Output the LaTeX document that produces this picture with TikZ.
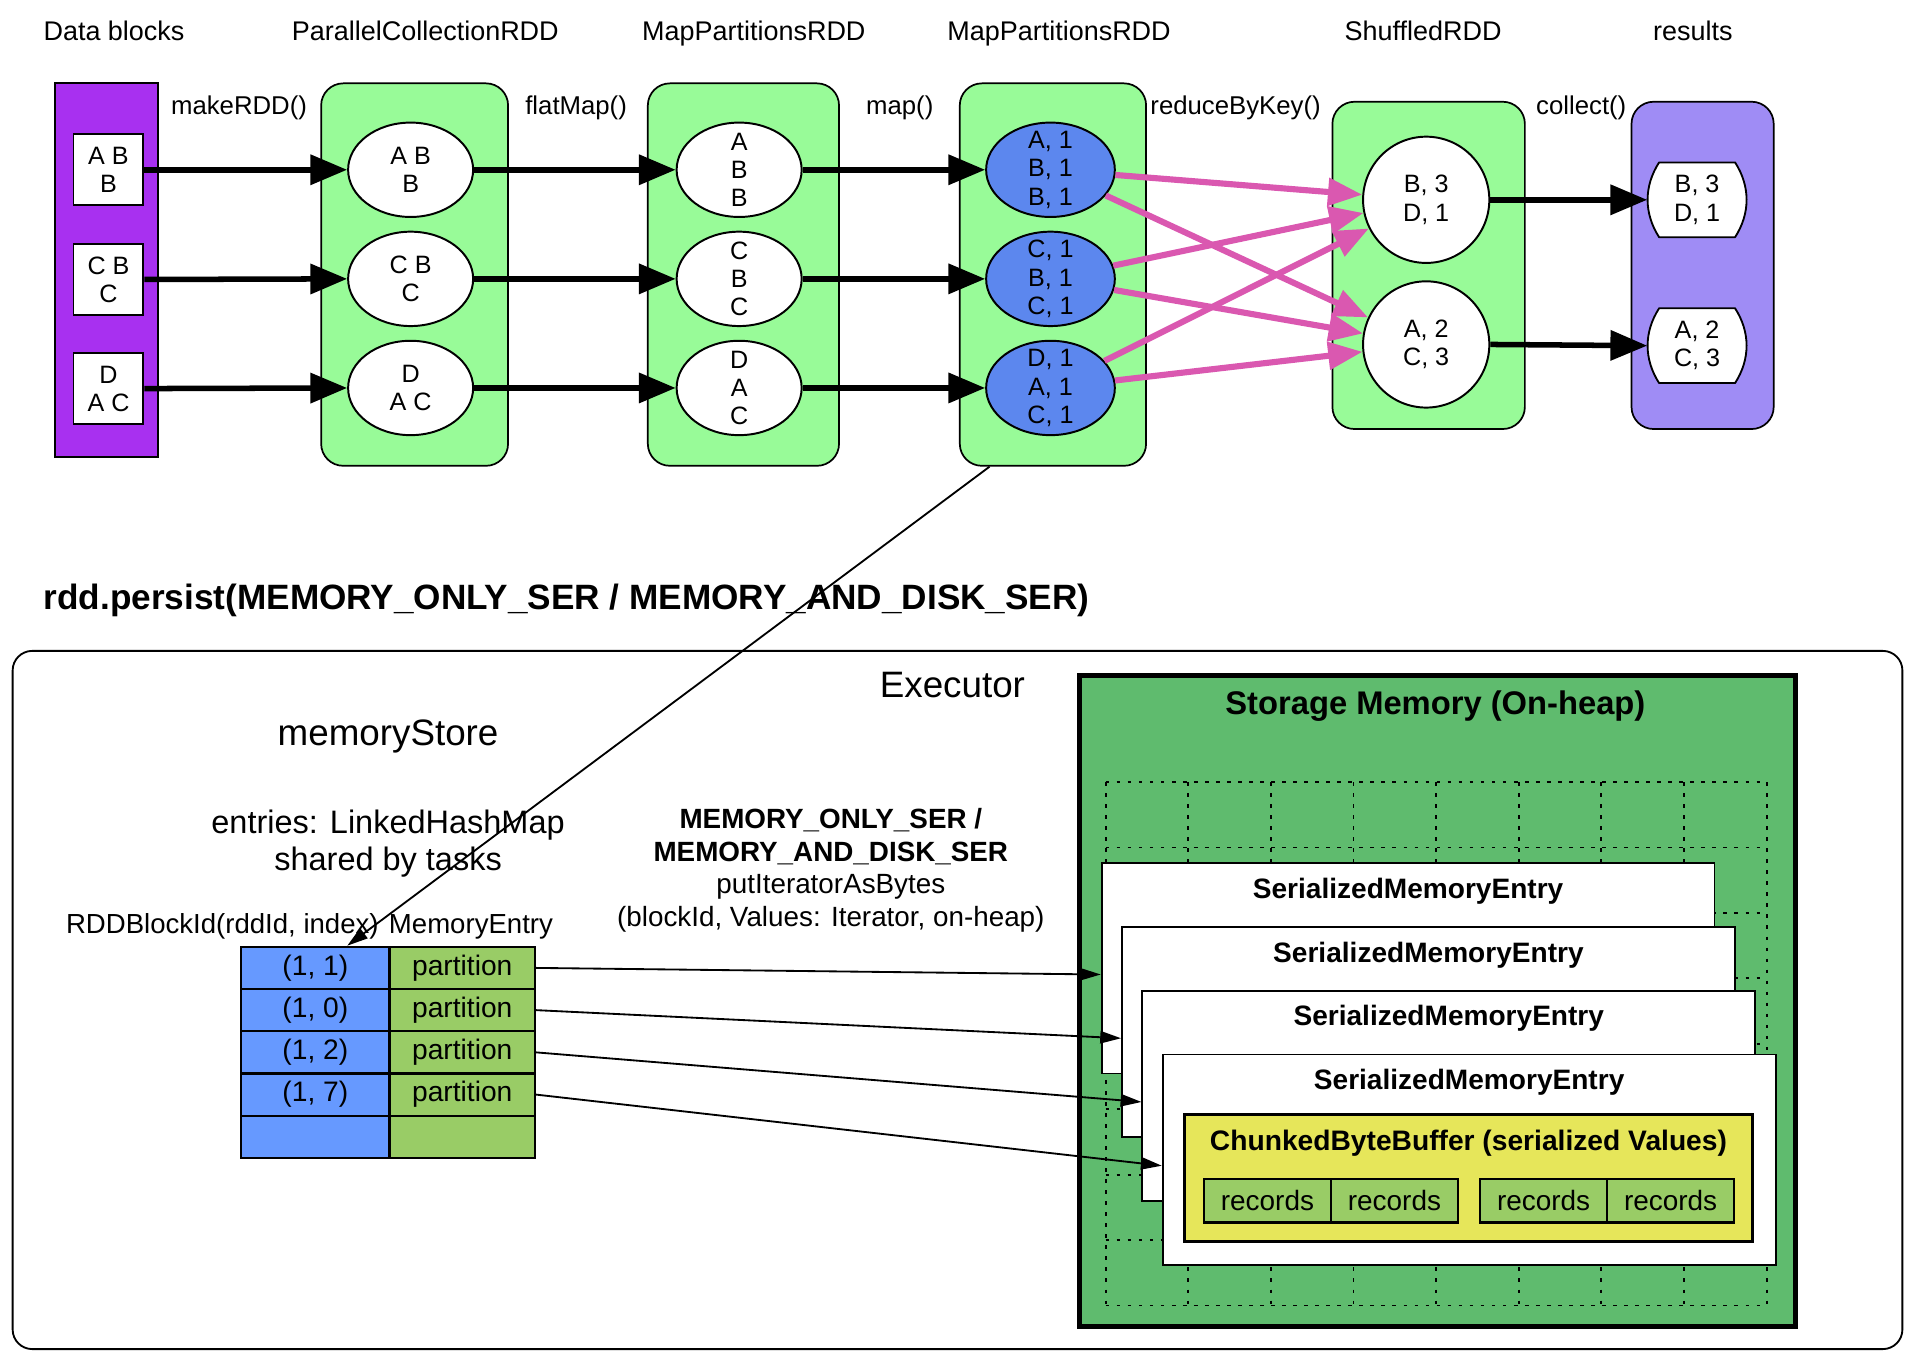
\documentclass[tikz,border=0pt]{standalone}
\usepackage{fontspec}
\setmainfont{Liberation Sans}
\usepackage{tikz}
\usetikzlibrary{arrows.meta,calc,shapes.geometric}

\newcommand{\setfs}[2]{\fontsize{#1}{#2}\selectfont}

\definecolor{blockpurple}{RGB}{168,48,240}
\definecolor{rddgreen}{RGB}{152,251,152}
\definecolor{pairblue}{RGB}{92,135,238}
\definecolor{resultviolet}{RGB}{159,140,245}
\definecolor{shufpink}{RGB}{218,88,176}
\definecolor{keyblue}{RGB}{102,153,255}
\definecolor{valgreen}{RGB}{153,204,102}
\definecolor{storegreen}{RGB}{95,187,110}
\definecolor{bufyellow}{RGB}{230,230,90}

\tikzset{
  rddtitle/.style={anchor=base, font=\setfs{22}{26}},
  oplabel/.style={anchor=base, font=\setfs{21}{25}},
  blockcol/.style={draw, fill=blockpurple, line width=1.5pt, minimum width=84pt, minimum height=305pt},
  datablock/.style={draw, fill=white, line width=1.5pt, minimum width=57pt, minimum height=58pt, inner sep=2pt, align=center, font=\setfs{20.5}{23}},
  rddbox/.style={draw, fill=rddgreen, rounded corners=18pt, line width=1.4pt},
  part/.style={draw, ellipse, fill=white, line width=1.6pt, minimum width=102pt, minimum height=77pt, inner sep=0pt},
  shufpart/.style={draw, circle, fill=white, line width=1.6pt, minimum size=103pt, inner sep=0pt},
  parttext/.style={align=center, font=\setfs{20.5}{23}},
  resline/.style={draw, fill=white, line width=1.5pt, line join=round},
  restext/.style={minimum width=81pt, minimum height=61pt, inner sep=2pt, align=center, font=\setfs{20.5}{23}},
  bigarrow/.style={line width=4.5pt, -{Triangle[length=30pt,width=24pt]}},
  shufarrow/.style={draw=shufpink, line width=5pt, -{Triangle[length=28pt,width=22pt]}},
  thinarrow/.style={line width=1.5pt, -{Triangle[length=17pt,width=10pt]}},
  keycell/.style={draw, fill=keyblue, line width=1.8pt, minimum width=121pt, minimum height=34.45pt, inner sep=0pt, font=\setfs{23}{26}},
  valcell/.style={draw, fill=valgreen, line width=1.8pt, minimum width=118.6pt, minimum height=34.45pt, inner sep=0pt, font=\setfs{23}{26}},
  serentry/.style={draw, fill=white, line width=1.5pt, minimum width=500pt, minimum height=171.5pt, inner sep=0pt},
  entrylabel/.style={font=\bfseries\setfs{22.9}{26}},
  reccell/.style={draw, fill=valgreen, line width=2pt, minimum width=103.6pt, minimum height=35.5pt, inner sep=0pt, font=\setfs{22.8}{26}},
  gridline/.style={line width=1.5pt, dash pattern=on 3pt off 6pt}
}

\begin{document}
\begin{tikzpicture}[x=1pt,y=-1pt]
\useasboundingbox (0,0) rectangle (1568,1114.4);

% column titles
\node[rddtitle] (tblocks) at (93,33) {Data blocks};
\node[rddtitle] (tparallel) at (347,33) {ParallelCollectionRDD};
\node[rddtitle] (tmapA) at (615,33) {MapPartitionsRDD};
\node[rddtitle] (tmapB) at (864,33) {MapPartitionsRDD};
\node[rddtitle] (tshuffled) at (1161,33) {ShuffledRDD};
\node[rddtitle] (tresults) at (1381,33) {results};

% operations
\node[oplabel] (opmake) at (195,93.5) {makeRDD()};
\node[oplabel] (opflat) at (470,93.5) {flatMap()};
\node[oplabel] (opmap) at (734,93.5) {map()};
\node[oplabel] (opreduce) at (1008,93.5) {reduceByKey()};
\node[oplabel] (opcollect) at (1290,93.5) {collect()};

% data blocks
\node[blockcol] (blocks) at (87,220.5) {};
\node[datablock] (d1) at (88.5,138.5) {A B\\B};
\node[datablock] (d2) at (88.5,228) {C B\\C};
\node[datablock] (d3) at (88.5,317) {D\\A C};

% rdd columns
\node[rddbox, minimum width=152.5pt, minimum height=312pt] (rddA) at (338.25,224) {};
\node[rddbox, minimum width=156pt, minimum height=312pt] (rddB) at (606.5,224) {};
\node[rddbox, minimum width=152pt, minimum height=312pt] (rddC) at (859,224) {};
\node[rddbox, minimum width=157pt, minimum height=267pt] (rddD) at (1165.5,216.5) {};
\node[rddbox, fill=resultviolet, minimum width=116pt, minimum height=267pt] (results) at (1389,216.5) {};

% partitions
\node[part, label={[parttext]center:{A B\\B}}] (a1) at (335,138.5) {};
\node[part, label={[parttext]center:{C B\\C}}] (a2) at (335,227.5) {};
\node[part, label={[parttext]center:{D\\A C}}] (a3) at (335,316.5) {};
\node[part, label={[parttext]center:{A\\B\\B}}] (b1) at (603,138.5) {};
\node[part, label={[parttext]center:{C\\B\\C}}] (b2) at (603,227.5) {};
\node[part, label={[parttext]center:{D\\A\\C}}] (b3) at (603,316.5) {};
\node[part, fill=pairblue, minimum width=105pt, label={[parttext]center:{A, 1\\B, 1\\B, 1}}] (c1) at (857,138.5) {};
\node[part, fill=pairblue, minimum width=105pt, label={[parttext]center:{C, 1\\B, 1\\C, 1}}] (c2) at (857,227.5) {};
\node[part, fill=pairblue, minimum width=105pt, label={[parttext]center:{D, 1\\A, 1\\C, 1}}] (c3) at (857,316.5) {};
\node[shufpart, label={[parttext]center:{B, 3\\D, 1}}] (s1) at (1163.5,163) {};
\node[shufpart, label={[parttext]center:{A, 2\\C, 3}}] (s2) at (1163.5,281) {};

% result boxes with bulging sides
\foreach \y in {163,282}
  \draw[resline] (1353.5,{\y-30.5}) -- (1415.5,{\y-30.5})
    .. controls (1428,{\y-11}) and (1428,{\y+11}) .. (1415.5,{\y+30.5})
    -- (1353.5,{\y+30.5})
    .. controls (1341,{\y+11}) and (1341,{\y-11}) .. (1353.5,{\y-30.5}) -- cycle;
\node[restext] (res1) at (1384.5,163) {B, 3\\D, 1};
\node[restext] (res2) at (1384.5,282) {A, 2\\C, 3};

\foreach \n in {1,2,3} {
  \draw[bigarrow] (d\n.east) -- (a\n.west);
  \draw[bigarrow] (a\n.east) -- (b\n.west);
  \draw[bigarrow] (b\n.east) -- (c\n.west);
  \draw[shufarrow] (c\n) -- (s1);
  \draw[shufarrow] (c\n) -- (s2);
}
\draw[bigarrow] (s1.east) -- (res1.west);
\draw[bigarrow] (s2.east) -- (res2.west);

% executor
\node[anchor=west, inner sep=0pt, font=\bfseries\setfs{28.7}{32}] (persist) at (35.5,490) {rdd.persist(MEMORY\_ONLY\_SER / MEMORY\_AND\_DISK\_SER)};
\node[draw, rounded corners=16pt, line width=1.5pt, minimum width=1541.7pt, minimum height=569.6pt] (executor) at (781.15,815.8) {};
\node[font=\setfs{30}{34}] (texecutor) at (777,558.5) {Executor};
\node[font=\setfs{30}{34}] (memstore) at (316.6,601) {memoryStore};
\node[align=center, font=\setfs{26.5}{30.7}] (entries) at (316.6,688.2) {entries: LinkedHashMap\\shared by tasks};
\node[font=\setfs{22.5}{26}] (tkey) at (181.4,756) {RDDBlockId(rddId, index)};
\node[font=\setfs{22.5}{26}] (tval) at (384.2,756) {MemoryEntry};
\node[align=center, font=\setfs{22.7}{26.9}] (putbytes) at (677.8,710) {\textbf{MEMORY\_ONLY\_SER /}\\\textbf{MEMORY\_AND\_DISK\_SER}\\putIteratorAsBytes\\(blockId, Values: Iterator, on-heap)};

% entries table
\foreach \r/\kid/\val in {1/{(1, 1)}/partition, 2/{(1, 0)}/partition, 3/{(1, 2)}/partition, 4/{(1, 7)}/partition, 5/{}/{}} {
  \node[keycell] (k\r) at (257.3,{772.4+34.45*(\r-0.5)}) {\kid};
  \node[valcell] (m\r) at (377.1,{772.4+34.45*(\r-0.5)}) {\val};
}

% storage memory
\node[draw, fill=storegreen, line width=4pt, minimum width=584pt, minimum height=531pt] (storage) at (1173,816.5) {};
\node[font=\bfseries\setfs{26.7}{30}] (tstorage) at (1171,576) {Storage Memory (On-heap)};
\foreach \i in {0,...,8} {
  \draw[gridline] ({902+67.4*\i},638) -- ({902+67.4*\i},1065);
  \draw[gridline] (902,{638+53.375*\i}) -- (1441,{638+53.375*\i});
}
\foreach \i in {1,...,4} {
  \node[serentry, anchor=north west] (e\i) at ({898+16.6*(\i-1)},{703.5+52*(\i-1)}) {};
  \node[entrylabel] (el\i) at ($(e\i.north)+(0,23.5)$) {SerializedMemoryEntry};
}
\node[draw, fill=bufyellow, line width=2pt, minimum width=463.7pt, minimum height=103.8pt] (buffer) at (1198,961) {};
\node[font=\bfseries\setfs{23}{26}] (tbuffer) at (1198,932.6) {ChunkedByteBuffer (serialized Values)};
\foreach \i/\x in {1/1034, 2/1137.6, 3/1259.3, 4/1362.9}
  \node[reccell] (rec\i) at (\x,979.45) {records};

% connectors
\draw[thinarrow] ($(rddC.south west)+(25,0)$) -- ($(k1.north east)+(-35.4,0)$);
\foreach \i in {1,...,4}
  \draw[thinarrow] (m\i.east) -- ($(e\i.west)+(0,5)$);
\end{tikzpicture}
\end{document}
